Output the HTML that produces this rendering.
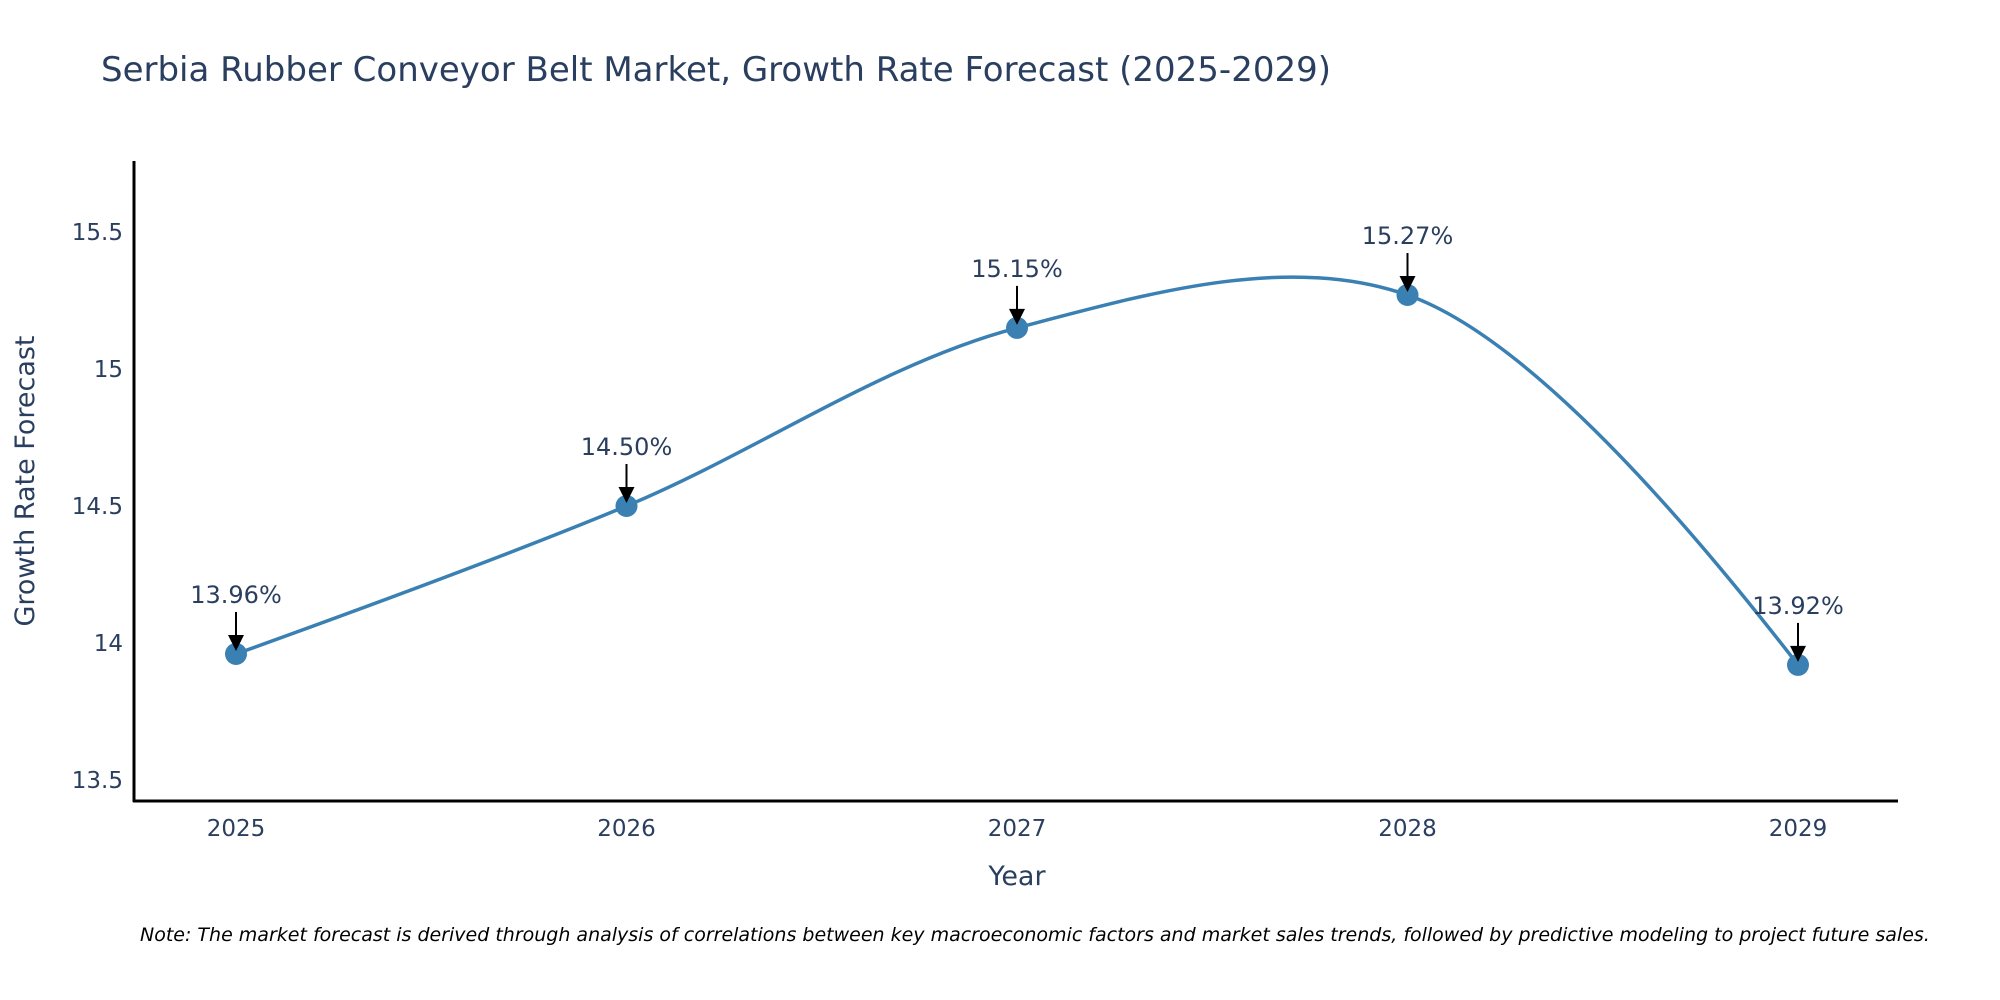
<!DOCTYPE html>
<html><head><meta charset="utf-8"><style>
body{margin:0;background:#fff;}
svg{display:block;font-family:"DejaVu Sans","Liberation Sans",sans-serif;}
</style></head><body>
<svg id="chart" width="2000" height="1000" viewBox="0 0 2000 1000">
<text x="101" y="81" font-size="34" fill="#2a3f5f">Serbia Rubber Conveyor Belt Market, Growth Rate Forecast (2025-2029)</text>
<g id="yticks"></g>
<g id="xticks"></g>
<line x1="134" y1="161" x2="134" y2="802" stroke="#000" stroke-width="3"/>
<line x1="133" y1="801" x2="1898" y2="801" stroke="#000" stroke-width="3"/>
<text transform="translate(34,481) rotate(-90)" text-anchor="middle" font-size="27" fill="#2a3f5f">Growth Rate Forecast</text>
<text x="1017" y="885" text-anchor="middle" font-size="27" fill="#2a3f5f">Year</text>
<path id="line" fill="none" stroke="#3b80b3" stroke-width="3.5"/>
<g id="marks"></g>
<text x="140" y="941" font-size="19" font-style="italic" fill="#000">Note: The market forecast is derived through analysis of correlations between key macroeconomic factors and market sales trends, followed by predictive modeling to project future sales.</text>
</svg>
<script>
const years = ["2025","2026","2027","2028","2029"];
const values = [13.96, 14.50, 15.15, 15.27, 13.92];
const labels = ["13.96%","14.50%","15.15%","15.27%","13.92%"];
const yTicks = [13.5, 14, 14.5, 15, 15.5];
const yTickLabels = ["13.5","14","14.5","15","15.5"];

const NS="http://www.w3.org/2000/svg";
const X0=236, XSTEP=390.5;
function xs(i){return X0+i*XSTEP;}
function ys(v){return 643-(v-14)*274;}
function mk(tag,attrs,parent){const e=document.createElementNS(NS,tag);for(const k in attrs)e.setAttribute(k,attrs[k]);parent.appendChild(e);return e;}
const yg=document.getElementById('yticks'), xg=document.getElementById('xticks'), mg=document.getElementById('marks');
yTicks.forEach((t,i)=>{
  const e=mk('text',{x:123,y:ys(t)+8,'text-anchor':'end','font-size':23,fill:'#2a3f5f'},yg);
  
  
  e.textContent=yTickLabels[i];
});
years.forEach((y,i)=>{
  const e=mk('text',{x:xs(i),y:836,'text-anchor':'middle','font-size':23,fill:'#2a3f5f'},xg);
  
  
  e.textContent=y;
});
const pts=values.map((v,i)=>[xs(i),ys(v)]);
function tan(p,t,n,s){
  const d1x=p[0]-t[0],d1y=p[1]-t[1],d2x=n[0]-t[0],d2y=n[1]-t[1];
  const d1a=Math.pow(d1x*d1x+d1y*d1y,0.25),d2a=Math.pow(d2x*d2x+d2y*d2y,0.25);
  const nx=(d2a*d2a*d1x-d1a*d1a*d2x)*s,ny=(d2a*d2a*d1y-d1a*d1a*d2y)*s;
  const a=3*d2a*(d1a+d2a),b=3*d1a*(d1a+d2a);
  return [[t[0]+nx/a,t[1]+ny/a],[t[0]-nx/b,t[1]-ny/b]];
}
const T=[];for(let i=1;i<pts.length-1;i++)T.push(tan(pts[i-1],pts[i],pts[i+1],1));
let d='M'+pts[0]+' Q'+T[0][0]+' '+pts[1];
for(let i=1;i<pts.length-2;i++)d+=' C'+T[i-1][1]+' '+T[i][0]+' '+pts[i+1];
d+=' Q'+T[T.length-1][1]+' '+pts[pts.length-1];
document.getElementById('line').setAttribute('d',d);
pts.forEach((p,i)=>{
  const c=mk('circle',{cx:p[0],cy:p[1],r:11,fill:'#3b80b3'},mg);
  
  
  const l=mk('line',{x1:p[0],y1:p[1]-42,x2:p[0],y2:p[1]-14,stroke:'#000','stroke-width':2},mg);
  
  
  const h=mk('polygon',{points:(p[0]-8)+','+(p[1]-19)+' '+(p[0]+8)+','+(p[1]-19)+' '+p[0]+','+(p[1]-3),fill:'#000'},mg);
  
  
  const t=mk('text',{x:p[0],y:p[1]-51,'text-anchor':'middle','font-size':24,fill:'#2a3f5f'},mg);
  
  
  t.textContent=labels[i];
});
</script>
</body></html>
